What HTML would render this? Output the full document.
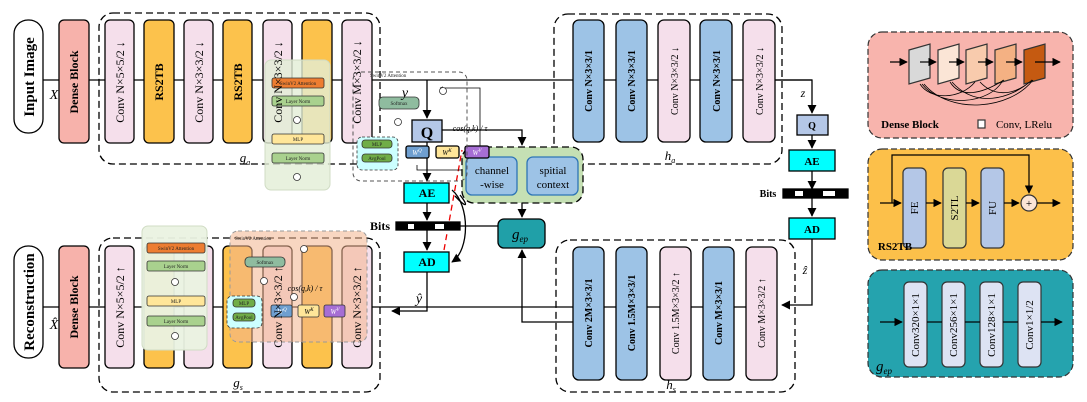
<!DOCTYPE html>
<html><head><meta charset="utf-8"><style>
html,body{margin:0;padding:0;background:#fff;}
svg{display:block;font-family:"Liberation Serif",serif;}
</style></head><body>
<svg width="1087" height="402" viewBox="0 0 1087 402" xmlns="http://www.w3.org/2000/svg">
<defs>
<marker id="a" viewBox="0 0 10 10" refX="9" refY="5" markerWidth="7" markerHeight="7" orient="auto"><path d="M0,0L10,5L0,10z" fill="#000"/></marker>
<marker id="s" viewBox="0 0 10 10" refX="9" refY="5" markerWidth="4" markerHeight="4" orient="auto"><path d="M0,0L10,5L0,10z" fill="#000"/></marker>
</defs>
<g stroke="#000" stroke-width="1.3" fill="none">
<!-- main lines -->
<line x1="43" y1="80" x2="812" y2="80"/>
<polyline points="775,80 812,80 812,113" marker-end="url(#a)"/>
<line x1="812" y1="135" x2="812" y2="148" marker-end="url(#a)"/>
<line x1="812" y1="171" x2="812" y2="189" marker-end="url(#a)"/>
<line x1="812" y1="198" x2="812" y2="216" marker-end="url(#a)"/>
<polyline points="812,239 812,305 782,305" marker-end="url(#a)"/>
<line x1="43" y1="307" x2="773" y2="307"/>
<polyline points="573,322 522,322 522,250" marker-end="url(#a)"/>
<!-- center -->
<line x1="427" y1="80" x2="427" y2="118" marker-end="url(#a)"/>
<line x1="427" y1="142" x2="427" y2="181" marker-end="url(#a)"/>
<line x1="427" y1="203" x2="427" y2="220" marker-end="url(#a)"/>
<line x1="427" y1="230" x2="427" y2="250" marker-end="url(#a)"/>
<polyline points="427,272 427,311 392,311" marker-end="url(#a)"/>
<polyline points="442,130 522,130 522,145" marker-end="url(#a)"/>
<line x1="522" y1="203" x2="522" y2="217" marker-end="url(#a)"/>
<line x1="460" y1="226" x2="498" y2="226"/>
<path d="M452,190 C470,205 470,250 452,262" marker-end="url(#a)"/>
<path d="M460,195 C468,205 468,210 455,196"/>
<line x1="444" y1="250" x2="462" y2="150" stroke="#e00" stroke-dasharray="6,4"/>
<polyline points="465,150 480,150 480,88 440,88" marker-end="url(#s)" stroke-width="0.8"/>
<polyline points="417,165 417,170 480,170" stroke-width="0.8"/>
<!-- dashed boxes -->
<rect x="99" y="13" width="281" height="151" rx="14" stroke-dasharray="7,4"/>
<rect x="554" y="14" width="228" height="150" rx="14" stroke-dasharray="7,4"/>
<rect x="99" y="238" width="281" height="154" rx="14" stroke-dasharray="7,4"/>
<rect x="556" y="240" width="239" height="152" rx="14" stroke-dasharray="7,4"/>
</g>
<!-- Input / reconstruction -->
<g stroke="#000" stroke-width="1.3">
<rect x="14" y="20" width="29" height="113" rx="14" fill="#fff"/>
<rect x="14" y="246" width="29" height="112" rx="14" fill="#fff"/>
<rect x="59" y="20" width="30" height="123" rx="5" fill="#f7b2ab"/>
<rect x="59" y="246" width="30" height="122" rx="5" fill="#f7b2ab"/>
<!-- g_a -->
<rect x="105" y="20" width="29" height="123" rx="5" fill="#f5dfeb"/>
<rect x="144" y="20" width="30" height="123" rx="5" fill="#fcc24c"/>
<rect x="184" y="20" width="29" height="123" rx="5" fill="#f5dfeb"/>
<rect x="223" y="20" width="29" height="123" rx="5" fill="#fcc24c"/>
<rect x="263" y="20" width="29" height="123" rx="5" fill="#f5dfeb"/>
<rect x="302" y="20" width="30" height="123" rx="5" fill="#fcc24c"/>
<rect x="342" y="20" width="30" height="123" rx="5" fill="#f5dfeb"/>
<!-- g_s -->
<rect x="105" y="246" width="29" height="122" rx="5" fill="#f5dfeb"/>
<rect x="144" y="246" width="30" height="122" rx="5" fill="#fcc24c"/>
<rect x="184" y="246" width="29" height="122" rx="5" fill="#f5dfeb"/>
<rect x="223" y="246" width="29" height="122" rx="5" fill="#fcc24c"/>
<rect x="263" y="246" width="29" height="122" rx="5" fill="#f5dfeb"/>
<rect x="302" y="246" width="30" height="122" rx="5" fill="#fcc24c"/>
<rect x="342" y="246" width="30" height="122" rx="5" fill="#f5dfeb"/>
<!-- h_a -->
<rect x="573" y="20" width="31" height="122" rx="6" fill="#9dc3e6"/>
<rect x="616" y="20" width="31" height="122" rx="6" fill="#9dc3e6"/>
<rect x="658" y="20" width="32" height="122" rx="6" fill="#f5dfeb"/>
<rect x="700" y="20" width="32" height="122" rx="6" fill="#9dc3e6"/>
<rect x="743" y="20" width="32" height="122" rx="6" fill="#f5dfeb"/>
<!-- h_s -->
<rect x="573" y="247" width="31" height="133" rx="6" fill="#9dc3e6"/>
<rect x="616" y="247" width="31" height="133" rx="6" fill="#9dc3e6"/>
<rect x="660" y="247" width="31" height="133" rx="6" fill="#f5dfeb"/>
<rect x="703" y="247" width="31" height="133" rx="6" fill="#9dc3e6"/>
<rect x="746" y="247" width="31" height="133" rx="6" fill="#f5dfeb"/>
<!-- Q/AE/AD right -->
<rect x="797" y="115" width="31" height="20" fill="#b4c7e7"/>
<rect x="789" y="150" width="46" height="21" fill="#00ffff"/>
<rect x="789" y="218" width="46" height="21" fill="#00ffff"/>
<rect x="783" y="189" width="65" height="9" fill="#000"/>
<rect x="795" y="191" width="8" height="5" fill="#fff" stroke="none"/>
<rect x="823" y="191" width="12" height="5" fill="#fff" stroke="none"/>
<!-- center -->
<rect x="404" y="183" width="45" height="20" fill="#00ffff"/>
<rect x="404" y="252" width="45" height="20" fill="#00ffff"/>
<rect x="396" y="222" width="64" height="8" fill="#000"/>
<rect x="408" y="224" width="6" height="5" fill="#fff" stroke="none"/>
<rect x="435" y="224" width="9" height="5" fill="#fff" stroke="none"/>
<rect x="462" y="147" width="121" height="56" rx="12" fill="#c5e0b4" stroke-dasharray="7,4"/>
<rect x="466" y="157" width="51" height="38" rx="6" fill="#9dc3e6" stroke="#2e75b6"/>
<rect x="527" y="157" width="51" height="38" rx="6" fill="#9dc3e6" stroke="#2e75b6"/>
<rect x="498" y="219" width="47" height="29" rx="6" fill="#20a0a8"/>
<rect x="412" y="120" width="30" height="22" fill="#b4c7e7"/>
<rect x="406" y="146" width="23" height="12" rx="2" fill="#6f9fd0"/>
<rect x="436" y="146" width="23" height="12" rx="2" fill="#ffe699"/>
<rect x="465" y="146" width="24" height="12" rx="2" fill="#a66ed4"/>
</g>
<!-- overlays -->
<g>
<rect x="265" y="60" width="65" height="130" rx="6" fill="#e2eed6" fill-opacity="0.8" stroke="#d0dcc4"/>
<rect x="353" y="72" width="114" height="109" rx="8" fill="none" stroke="#555" stroke-dasharray="4,3"/>
<rect x="142" y="226" width="65" height="124" rx="6" fill="#eaf2e1" fill-opacity="0.95" stroke="#d0dcc4"/>
<rect x="230" y="231" width="137" height="111" rx="8" fill="#f2b48e" fill-opacity="0.55" stroke="#999" stroke-dasharray="4,3"/>
</g>
<g stroke="#333" stroke-width="0.8" font-size="5">
<rect x="272" y="78" width="52" height="10" rx="2" fill="#ed7d31"/>
<rect x="272" y="96" width="52" height="10" rx="2" fill="#a9d18e"/>
<rect x="272" y="134" width="52" height="10" rx="2" fill="#ffe699"/>
<rect x="272" y="153" width="52" height="10" rx="2" fill="#a9d18e"/>
<circle cx="297" cy="120" r="3.5" fill="#fff"/><circle cx="297" cy="177" r="3.5" fill="#fff"/>
<rect x="379" y="97" width="40" height="12" rx="4" fill="#8fbc9f"/>
<rect x="357" y="137" width="41" height="33" rx="5" fill="#ccffff" stroke-dasharray="3,2"/>
<rect x="362" y="140" width="30" height="8" rx="3" fill="#70ad47"/>
<rect x="362" y="154" width="30" height="8" rx="3" fill="#70ad47"/>
<circle cx="398" cy="122" r="3.5" fill="#fff"/><circle cx="443" cy="91" r="3.5" fill="#fff"/>
<rect x="147" y="243" width="58" height="10" rx="2" fill="#ed7d31"/>
<rect x="147" y="261" width="58" height="10" rx="2" fill="#a9d18e"/>
<rect x="147" y="296" width="58" height="10" rx="2" fill="#ffe699"/>
<rect x="147" y="316" width="58" height="10" rx="2" fill="#a9d18e"/>
<circle cx="175" cy="282" r="3.5" fill="#fff"/><circle cx="175" cy="336" r="3.5" fill="#fff"/>
<rect x="245" y="257" width="40" height="10" rx="4" fill="#8fbc9f"/>
<rect x="227" y="296" width="35" height="32" rx="5" fill="#ccffff" stroke-dasharray="3,2"/>
<rect x="233" y="299" width="22" height="8" rx="3" fill="#70ad47"/>
<rect x="233" y="313" width="22" height="8" rx="3" fill="#70ad47"/>
<rect x="271" y="305" width="21" height="12" rx="2" fill="#6f9fd0"/>
<rect x="298" y="305" width="21" height="12" rx="2" fill="#ffe699"/>
<rect x="324" y="305" width="21" height="12" rx="2" fill="#a66ed4"/>
<circle cx="264" cy="281" r="3.5" fill="#fff"/><circle cx="294" cy="297" r="3.5" fill="#fff"/><circle cx="304" cy="249" r="3.5" fill="#fff"/>
</g>
<g font-size="5" text-anchor="middle" fill="#222">
<text x="298" y="85">SwinV2 Attention</text><text x="298" y="103">Layer Norm</text><text x="298" y="141">MLP</text><text x="298" y="160">Layer Norm</text>
<text x="399" y="105">Softmax</text><text x="377" y="146">MLP</text><text x="377" y="160">AvgPool</text>
<text x="176" y="250">SwinV2 Attention</text><text x="176" y="268">Layer Norm</text><text x="176" y="303">MLP</text><text x="176" y="323">Layer Norm</text>
<text x="265" y="264">Softmax</text><text x="244" y="305">MLP</text><text x="244" y="319">AvgPool</text>
<text x="370" y="77" text-anchor="start">SwinV2 Attention</text><text x="235" y="240" text-anchor="start">SwinV2 Attention</text>
</g>
<g font-size="7" font-style="italic" text-anchor="middle" fill="#fff">
<text x="417" y="155">W<tspan font-size="5" dy="-3">Q</tspan></text>
<text x="282" y="314">W<tspan font-size="5" dy="-3">Q</tspan></text>
<text x="335" y="314">W<tspan font-size="5" dy="-3">V</tspan></text>
<text x="477" y="155">W<tspan font-size="5" dy="-3">V</tspan></text>
</g>
<g font-size="7" font-style="italic" text-anchor="middle" fill="#000">
<text x="447" y="155">W<tspan font-size="5" dy="-3">K</tspan></text>
<text x="309" y="314">W<tspan font-size="5" dy="-3">K</tspan></text>
<text x="470" y="131" font-size="8">cos(q,k) / τ</text>
<text x="305" y="291" font-size="8">cos(q,k) / τ</text>
</g>
<!-- vertical labels -->
<g font-weight="bold" text-anchor="middle" font-size="15">
<text transform="translate(34,77) rotate(-90)">Input Image</text>
<text transform="translate(34,302) rotate(-90)">Reconstruction</text>
</g>
<g font-weight="bold" text-anchor="middle" font-size="12">
<text transform="translate(78,82) rotate(-90)">Dense Block</text>
<text transform="translate(78,307) rotate(-90)">Dense Block</text>
<text transform="translate(163,82) rotate(-90)">RS2TB</text>
<text transform="translate(242,82) rotate(-90)">RS2TB</text>
</g>
<g text-anchor="middle" font-size="12">
<text transform="translate(124,82) rotate(-90)">Conv N×5×5/2 ↓</text>
<text transform="translate(203,82) rotate(-90)">Conv N×3×3/2 ↓</text>
<text transform="translate(282,82) rotate(-90)">Conv N×3×3/2 ↓</text>
<text transform="translate(361,82) rotate(-90)">Conv M×3×3/2 ↓</text>
<text transform="translate(124,307) rotate(-90)">Conv N×5×5/2 ↑</text>
<text transform="translate(282,307) rotate(-90)">Conv N×3×3/2 ↑</text>
<text transform="translate(361,307) rotate(-90)">Conv N×3×3/2 ↑</text>
</g>
<g text-anchor="middle" font-size="10" font-weight="bold">
<text transform="translate(592,81) rotate(-90)">Conv N×3×3/1</text>
<text transform="translate(635,81) rotate(-90)">Conv N×3×3/1</text>
<text transform="translate(678,81) rotate(-90)" font-weight="normal">Conv N×3×3/2 ↓</text>
<text transform="translate(720,81) rotate(-90)">Conv N×3×3/1</text>
<text transform="translate(763,81) rotate(-90)" font-weight="normal">Conv N×3×3/2 ↓</text>
<text transform="translate(592,313) rotate(-90)">Conv 2M×3×3/1</text>
<text transform="translate(635,313) rotate(-90)">Conv 1.5M×3×3/1</text>
<text transform="translate(679,313) rotate(-90)" font-weight="normal">Conv 1.5M×3×3/2 ↑</text>
<text transform="translate(722,313) rotate(-90)">Conv M×3×3/1</text>
<text transform="translate(765,313) rotate(-90)" font-weight="normal">Conv M×3×3/2 ↑</text>
</g>
<g text-anchor="middle">
<text x="812" y="129" font-weight="bold" font-size="10">Q</text>
<text x="812" y="165" font-weight="bold" font-size="11">AE</text>
<text x="812" y="233" font-weight="bold" font-size="11">AD</text>
<text x="768" y="197" font-weight="bold" font-size="10">Bits</text>
<text x="427" y="197" font-weight="bold" font-size="12">AE</text>
<text x="427" y="266" font-weight="bold" font-size="12">AD</text>
<text x="380" y="230" font-weight="bold" font-size="12">Bits</text>
<text x="427" y="138" font-weight="bold" font-size="16">Q</text>
<text x="492" y="174" font-size="11">channel</text><text x="492" y="188" font-size="11">-wise</text>
<text x="553" y="174" font-size="11">spitial</text><text x="553" y="188" font-size="11">context</text>
<text x="520" y="239" font-size="15" font-style="italic" fill="#000">g<tspan font-size="9" dy="3">ep</tspan></text>
<text x="54" y="99" font-size="14" font-style="italic">X</text>
<text x="54" y="329" font-size="14" font-style="italic">X̂</text>
<text x="405" y="97" font-size="14" font-style="italic">y</text>
<text x="419" y="303" font-size="14" font-style="italic">ŷ</text>
<text x="803" y="97" font-size="12" font-style="italic">z</text>
<text x="805" y="274" font-size="12" font-style="italic">ẑ</text>
<text x="245" y="162" font-size="13" font-style="italic">g<tspan font-size="8" dy="3">a</tspan></text>
<text x="238" y="387" font-size="13" font-style="italic">g<tspan font-size="8" dy="3">s</tspan></text>
<text x="670" y="160" font-size="13" font-style="italic">h<tspan font-size="8" dy="3">a</tspan></text>
<text x="671" y="389" font-size="13" font-style="italic">h<tspan font-size="8" dy="3">s</tspan></text>
</g>
<!-- right legend panels -->
<g stroke="#333" stroke-width="1.2">
<rect x="868" y="32" width="205" height="106" rx="14" fill="#f8b4ad" stroke-dasharray="6,3"/>
<rect x="868" y="149" width="205" height="111" rx="14" fill="#fcc04a" stroke-dasharray="6,3"/>
<rect x="868" y="270" width="205" height="107" rx="14" fill="#25a3ae" stroke-dasharray="6,3"/>
<polygon points="909,50 930,44 930,78 909,84" fill="#d9d9d9"/>
<polygon points="938,50 959,44 959,78 938,84" fill="#fbe5d6"/>
<polygon points="966,50 987,44 987,78 966,84" fill="#f8cbad"/>
<polygon points="995,50 1016,44 1016,78 995,84" fill="#f4b183"/>
<polygon points="1024,50 1045,44 1045,78 1024,84" fill="#c55a11"/>
<rect x="978" y="120" width="7" height="8" fill="#fff"/>
<rect x="903" y="168" width="23" height="80" rx="5" fill="#b4c7e7"/>
<rect x="943" y="168" width="23" height="80" rx="5" fill="#dad896"/>
<rect x="981" y="168" width="23" height="80" rx="5" fill="#b4c7e7"/>
<circle cx="1029" cy="203" r="8" fill="#fbe5d6"/>
<rect x="904" y="282" width="23" height="85" rx="5" fill="#dde3f3"/>
<rect x="942" y="282" width="23" height="85" rx="5" fill="#dde3f3"/>
<rect x="980" y="282" width="23" height="85" rx="5" fill="#dde3f3"/>
<rect x="1018" y="282" width="23" height="85" rx="5" fill="#dde3f3"/>
</g>
<g stroke="#000" stroke-width="1.2" fill="none">
<line x1="890" y1="62" x2="907" y2="62" marker-end="url(#a)"/>
<line x1="920" y1="62" x2="936" y2="62" marker-end="url(#a)"/>
<line x1="949" y1="62" x2="964" y2="62" marker-end="url(#a)"/>
<line x1="978" y1="62" x2="993" y2="62" marker-end="url(#a)"/>
<line x1="1006" y1="62" x2="1022" y2="62" marker-end="url(#a)"/>
<line x1="1035" y1="62" x2="1060" y2="62" marker-end="url(#a)"/>
<path d="M920,84 C930,100 960,100 975,82 M922,84 C940,108 990,105 1003,80 M924,84 C950,115 1010,110 1033,80 M950,82 C960,98 980,95 1004,80 M952,82 C975,108 1010,100 1032,80 M980,82 C995,98 1015,95 1032,80" stroke-width="0.8"/>
<polyline points="880,203 901,203" marker-end="url(#a)"/>
<polyline points="892,203 892,155 1029,155 1029,193" marker-end="url(#a)"/>
<line x1="926" y1="203" x2="941" y2="203" marker-end="url(#a)"/>
<line x1="966" y1="203" x2="979" y2="203" marker-end="url(#a)"/>
<line x1="1004" y1="203" x2="1019" y2="203" marker-end="url(#a)"/>
<line x1="1037" y1="203" x2="1060" y2="203" marker-end="url(#a)"/>
<line x1="880" y1="322" x2="902" y2="322" marker-end="url(#a)"/>
<line x1="927" y1="322" x2="942" y2="322"/><line x1="965" y1="322" x2="980" y2="322"/><line x1="1003" y1="322" x2="1018" y2="322"/>
<line x1="1041" y1="322" x2="1062" y2="322" marker-end="url(#a)"/>
</g>
<g text-anchor="middle" font-size="11">
<text x="910" y="128" font-weight="bold">Dense Block</text>
<text x="1024" y="128">Conv,  LRelu</text>
<text x="895" y="250" font-weight="bold">RS2TB</text>
<text transform="translate(918,208) rotate(-90)">FE</text>
<text transform="translate(958,208) rotate(-90)">S2TL</text>
<text transform="translate(996,208) rotate(-90)">FU</text>
<text x="1029" y="207" font-size="11">+</text>
<text transform="translate(919,325) rotate(-90)">Conv320×1×1</text>
<text transform="translate(957,325) rotate(-90)">Conv256×1×1</text>
<text transform="translate(995,325) rotate(-90)">Conv128×1×1</text>
<text transform="translate(1033,325) rotate(-90)">Conv1×1/2</text>
<text x="884" y="371" font-size="15" font-style="italic" fill="#000">g<tspan font-size="9" dy="3">ep</tspan></text>
</g>
</svg>
</body></html>
